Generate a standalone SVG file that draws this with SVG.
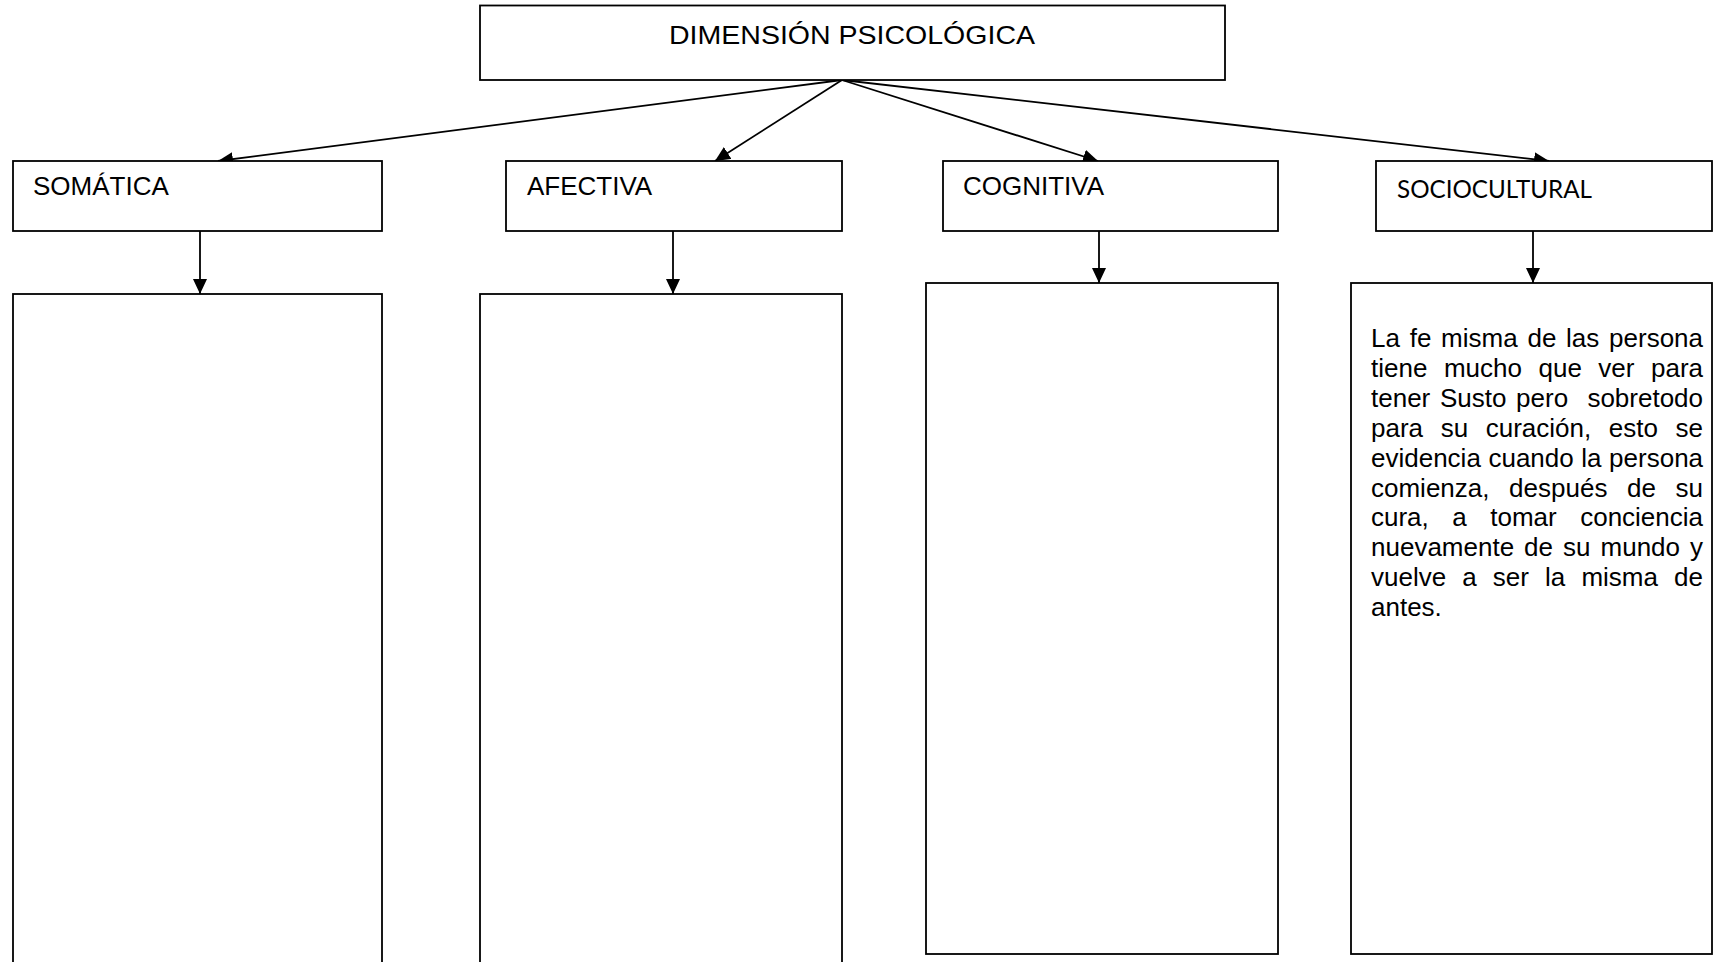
<svg xmlns="http://www.w3.org/2000/svg" width="1713" height="962" viewBox="0 0 1713 962">
<style>
.box{fill:#fff;stroke:#000;stroke-width:1.8}
.lbl{font-family:"Liberation Sans",Arial,sans-serif;font-size:26px;fill:#000}
.cal{font-family:Lato,"Open Sans",sans-serif;font-size:25px;fill:#000}
.par{font-family:"Liberation Sans",Arial,sans-serif;font-size:26px;fill:#000}
.con{stroke:#000;stroke-width:1.8;fill:none}
</style>
<defs>
<marker id="ah" markerUnits="userSpaceOnUse" markerWidth="15" markerHeight="14" refX="15" refY="7" orient="auto">
<path d="M0,0 L15,7 L0,14 z" fill="#000"/>
</marker>
</defs>
<rect width="1713" height="962" fill="#fff"/>
<g id="connectors">
<line class="con" x1="842" y1="80" x2="218" y2="161" marker-end="url(#ah)"/>
<line class="con" x1="842" y1="80" x2="715" y2="161" marker-end="url(#ah)"/>
<line class="con" x1="842" y1="80" x2="1098" y2="161" marker-end="url(#ah)"/>
<line class="con" x1="842" y1="80" x2="1549" y2="161" marker-end="url(#ah)"/>
<line class="con" x1="200" y1="231" x2="200" y2="294" marker-end="url(#ah)"/>
<line class="con" x1="673" y1="231" x2="673" y2="294" marker-end="url(#ah)"/>
<line class="con" x1="1099" y1="231" x2="1099" y2="283" marker-end="url(#ah)"/>
<line class="con" x1="1533" y1="231" x2="1533" y2="283" marker-end="url(#ah)"/>
</g>
<g id="dimension">
<rect class="box" x="480" y="5.5" width="745" height="74.5"/>
<text class="lbl" x="852" y="44" font-size="30" text-anchor="middle" textLength="366" lengthAdjust="spacingAndGlyphs">DIMENSIÓN PSICOLÓGICA</text>
</g>
<g id="somatica">
<rect class="box" x="13" y="161" width="369" height="70"/>
<text class="lbl" x="33" y="195">SOMÁTICA</text>
</g>
<g id="afectiva">
<rect class="box" x="506" y="161" width="336" height="70"/>
<text class="lbl" x="527" y="195">AFECTIVA</text>
</g>
<g id="cognitiva">
<rect class="box" x="943" y="161" width="335" height="70"/>
<text class="lbl" x="963" y="195">COGNITIVA</text>
</g>
<g id="sociocultural">
<rect class="box" x="1376" y="161" width="336" height="70"/>
<text class="cal" x="1397" y="198" textLength="195" lengthAdjust="spacingAndGlyphs">SOCIOCULTURAL</text>
</g>
<g id="somatica-detail">
<rect class="box" x="13" y="294" width="369" height="700"/>
</g>
<g id="afectiva-detail">
<rect class="box" x="480" y="294" width="362" height="700"/>
</g>
<g id="cognitiva-detail">
<rect class="box" x="926" y="283" width="352" height="671"/>
</g>
<g id="sociocultural-detail">
<rect class="box" x="1351" y="283" width="361" height="671"/>
<text class="par" x="1371" y="347" word-spacing="2.53">La fe misma de las persona</text>
<text class="par" x="1371" y="376.9" word-spacing="9.3">tiene mucho que ver para</text>
<text class="par" x="1371" y="406.8" word-spacing="2.43" style="white-space:pre">tener Susto pero  sobretodo</text>
<text class="par" x="1371" y="436.7" word-spacing="10.38">para su curación, esto se</text>
<text class="par" x="1371" y="466.6" word-spacing="0.35">evidencia cuando la persona</text>
<text class="par" x="1371" y="496.5" word-spacing="12.4">comienza, después de su</text>
<text class="par" x="1371" y="526.4" word-spacing="16.26">cura, a tomar conciencia</text>
<text class="par" x="1371" y="556.3" word-spacing="2.79">nuevamente de su mundo y</text>
<text class="par" x="1371" y="586.2" word-spacing="8.89">vuelve a ser la misma de</text>
<text class="par" x="1371" y="616.1">antes.</text>
</g>
</svg>
